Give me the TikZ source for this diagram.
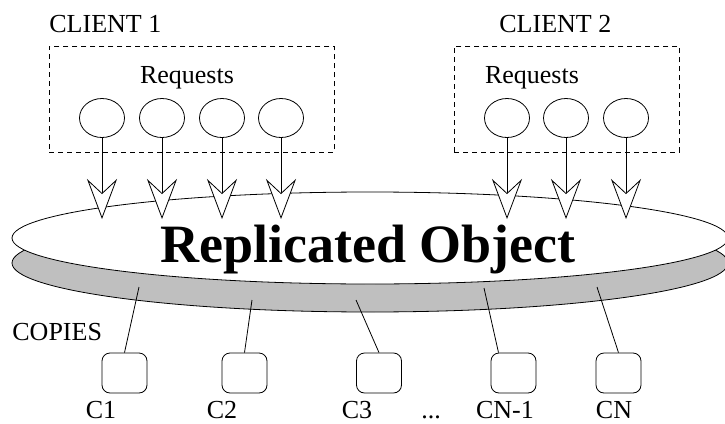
\documentclass[tikz,border=0pt]{standalone}
\usepackage{fontspec}
\setmainfont{Liberation Serif}
\usetikzlibrary{arrows.meta,shapes.geometric}
\tikzstyle{req} = [ellipse, draw, minimum width=45pt, minimum height=39pt, inner sep=0pt]
\tikzstyle{copybox} = [draw, fill=white, rounded corners=8pt, minimum width=45pt, minimum height=40pt, inner sep=0pt]
\tikzstyle{clientbox} = [draw, dash pattern=on 5pt off 4pt, minimum height=106pt, inner sep=0pt, anchor=north west]
\tikzstyle{lbl} = [font=\fontsize{26}{30}\selectfont, inner sep=0pt]
\tikzstyle{reqarrow} = [-{Stealth[length=40pt,width=30pt,inset=14pt,fill=white]}]

\begin{document}
\begin{tikzpicture}[x=1pt,y=-1pt,line width=0.8pt]
	\useasboundingbox (0,0) rectangle (725,423);

	% Clients and their requests
	\node[lbl,anchor=base west] (cl1) at (49,32) {CLIENT 1};
	\node[lbl,anchor=base west] (cl2) at (499,32) {CLIENT 2};
	\node[clientbox,minimum width=285pt] (box1) at (49,46) {};
	\node[clientbox,minimum width=225pt] (box2) at (454,46) {};
	\node[lbl,anchor=base] (rq1) at (187,83) {Requests};
	\node[lbl,anchor=base] (rq2) at (532,83) {Requests};
	\foreach \x [count=\i] in {102,162,222,281}
		\node[req] (a\i) at (\x,118) {};
	\foreach \x [count=\i] in {507,566,626}
		\node[req] (b\i) at (\x,118) {};

	% The object: grey rim under a white top
	\draw[fill=gray!50] (370,263) ellipse [x radius=358, y radius=49];
	\draw[fill=white] (370,238) ellipse [x radius=358, y radius=46];
	\node[font=\bfseries\fontsize{54}{60}\selectfont, inner sep=0pt, anchor=base] (obj) at (368,262) {Replicated Object};

	\coordinate (tip) at (0,219);
	\foreach \n in {a1,a2,a3,a4,b1,b2,b3}
		\draw[reqarrow] (\n.south) -- (\n.south |- tip);

	% Copies
	\node[lbl,anchor=base west] (cp) at (12,340) {COPIES};
	\foreach \x [count=\i] in {124.5,244.5,379,513.5,618.5}
		\node[copybox] (c\i) at (\x,373) {};
	\foreach \x/\t [count=\i] in {101/C1,222/C2,357/C3,505/CN-1,614/CN}
		\node[lbl,anchor=base] (lc\i) at (\x,418) {\t};
	\node[lbl,anchor=base] (dots) at (431,418) {...};

	\coordinate (d1) at (139,287);
	\coordinate (d2) at (252,300);
	\coordinate (d3) at (356,300);
	\coordinate (d4) at (484,288);
	\coordinate (d5) at (597,287);
	\draw (c1.north) -- (d1);
	\draw (c2.north) -- (d2);
	\draw (c3.north) -- (d3);
	\draw ([xshift=-15pt]c4.north) -- (d4);
	\draw (c5.north) -- (d5);

\end{tikzpicture}
\end{document}
